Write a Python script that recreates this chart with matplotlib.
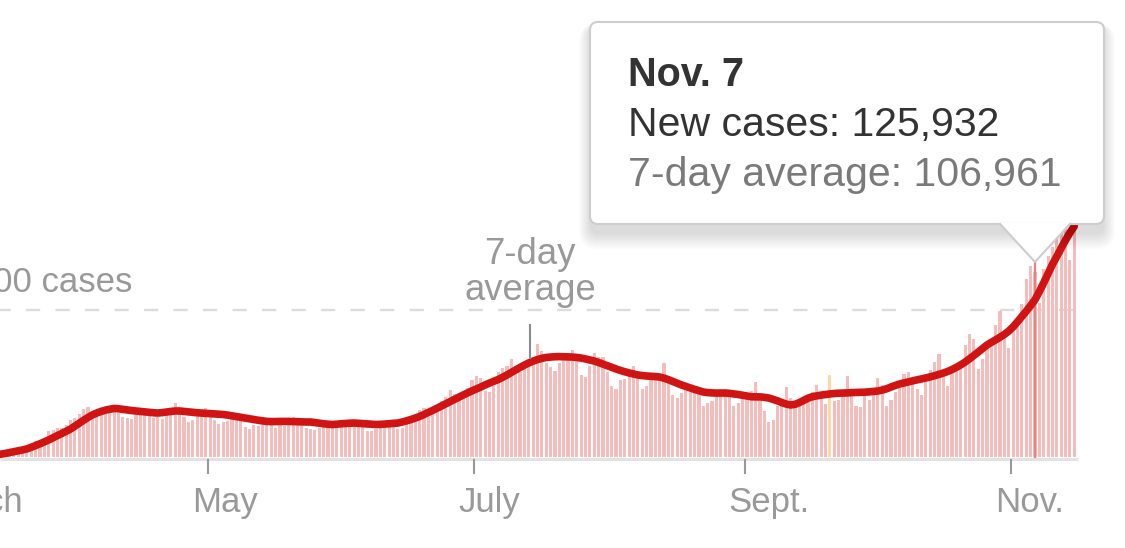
import numpy as np
import pandas as pd
import matplotlib
matplotlib.use("Agg")
import matplotlib.pyplot as plt
from matplotlib.patches import FancyBboxPatch, Polygon
from matplotlib.transforms import Affine2D, blended_transform_factory, offset_copy

plt.rcParams["font.family"] = ["Liberation Sans", "DejaVu Sans"]

# --- data (thousands of cases per day, starting March 12, 2020) ---
first_day = "2020-03-12"
new_cases = [
    # March 12-31
    0.5, 0.6, 0.7, 0.9, 1.2, 1.8, 2.6, 4.5, 5.6, 6.5, 8.5, 10.6, 10.2, 12.2, 17.8, 18.6, 19.6, 20.0, 21.5, 25.2,
    # April
    26.5, 29.5, 32.5, 34.0, 26.0, 29.5, 31.0, 31.0, 33.5, 34.5, 30.0, 27.5, 26.5, 26.0, 30.0, 31.5, 31.0, 30.0,
    26.5, 27.0, 26.0, 29.0, 31.5, 36.5, 33.0, 27.0, 23.5, 25.5, 28.0, 31.0,
    # May
    33.0, 29.5, 25.5, 22.5, 24.0, 24.5, 28.0, 27.5, 25.0, 20.5, 19.0, 22.0, 21.0, 27.5, 25.0, 24.0, 20.0, 22.0,
    21.0, 22.5, 27.5, 24.0, 22.5, 19.5, 19.0, 18.5, 19.5, 22.5, 24.5, 24.0, 20.5,
    # June
    21.0, 21.5, 20.5, 21.5, 24.5, 22.5, 18.0, 17.5, 19.0, 21.0, 23.0, 25.5, 25.0, 19.0, 20.0, 23.5, 25.5, 28.0,
    32.0, 33.0, 27.0, 30.0, 35.5, 38.0, 40.5, 45.5, 43.0, 40.0, 41.5, 47.0,
    # July
    52.5, 55.0, 54.0, 45.0, 44.0, 48.0, 58.0, 60.5, 62.0, 67.0, 61.0, 58.0, 62.0, 65.0, 67.5, 77.0, 72.0, 64.0,
    61.5, 58.5, 64.0, 69.5, 71.0, 73.0, 66.0, 56.0, 54.5, 62.0, 70.5, 68.0, 68.0,
    # August
    58.0, 48.0, 46.0, 52.5, 53.0, 57.5, 62.0, 55.5, 46.5, 48.5, 53.0, 56.0, 52.0, 64.0, 53.0, 42.0, 40.0, 43.5,
    46.0, 45.0, 47.5, 45.0, 35.0, 37.0, 38.0, 45.0, 46.0, 46.5, 44.0, 35.0, 37.0,
    # September
    43.0, 41.0, 45.0, 51.0, 43.0, 31.0, 24.0, 25.0, 35.0, 36.0, 47.5, 40.0, 34.0, 35.5, 38.0, 40.0, 44.5, 49.0,
    42.5, 36.0, 56.0, 38.0, 39.0, 44.0, 55.0, 46.0, 34.5, 34.0, 43.0, 39.0,
    # October
    44.0, 54.0, 49.0, 35.0, 38.5, 44.0, 50.5, 56.5, 58.0, 54.0, 46.0, 42.0, 52.0, 59.0, 64.5, 70.0, 56.0, 48.5,
    58.0, 60.0, 63.0, 76.0, 83.5, 80.0, 60.0, 67.0, 74.0, 79.5, 90.0, 99.0, 82.0,
    # November 1-16
    74.0, 88.0, 92.0, 104.0, 121.0, 130.0, 125.932, 105.0, 128.0, 137.0, 143.0, 162.0, 177.0, 160.0, 134.0, 166.0,
]
avg_cases = [
    0.7, 1.0, 1.4, 1.9, 2.4, 3.0, 3.6, 4.2, 4.8, 5.5,
    6.6, 7.8, 9.0, 10.3, 11.6, 13.1, 14.6, 16.0, 17.5, 19.0,
    21.0, 23.0, 25.0, 26.9, 28.6, 29.9, 31.0, 31.9, 32.5, 33.0,
    32.8, 32.4, 32.0, 31.6, 31.3, 31.0, 30.7, 30.4, 30.1, 29.9,
    30.2, 30.6, 31.0, 31.3, 31.3, 31.0, 30.7, 30.4, 30.1, 29.9,
    29.7, 29.5, 29.3, 29.1, 28.9, 28.5, 28.0, 27.5, 27.0, 26.5,
    26.0, 25.5, 25.0, 24.6, 24.2, 24.1, 24.1, 24.2, 24.2, 24.2,
    24.1, 24.0, 23.9, 23.8, 23.8, 23.4, 23.0, 22.6, 22.3, 22.1,
    22.3, 22.6, 22.8, 23.0, 23.1, 22.9, 22.7, 22.5, 22.3, 22.1,
    22.2, 22.4, 22.6, 22.9, 23.1, 23.8, 24.6, 25.5, 26.5, 27.6,
    28.9, 30.3, 31.7, 33.2, 34.7, 36.2, 37.7, 39.2, 40.7, 42.2,
    43.6, 45.0, 46.3, 47.6, 49.0, 50.3, 51.5, 52.7, 54.2, 55.8,
    57.5, 59.2, 60.9, 62.5, 64.0, 65.2, 66.3, 67.1, 67.7, 68.0,
    68.2, 68.3, 68.2, 68.1, 68.0, 67.7, 67.3, 66.7, 66.0, 65.3,
    64.3, 63.2, 62.1, 61.0, 59.9, 58.9, 58.0, 57.2, 56.5, 55.8,
    55.4, 55.1, 54.9, 54.7, 54.4, 53.6, 52.6, 51.4, 50.2, 49.0,
    48.0, 47.0, 46.0, 45.1, 44.2, 43.8, 43.6, 43.5, 43.5, 43.5,
    43.3, 42.9, 42.5, 42.0, 41.5, 41.0, 40.9, 40.9, 40.6, 40.1,
    39.2, 38.2, 37.0, 36.0, 35.4, 35.8, 37.0, 38.5, 40.0, 41.0,
    41.6, 42.1, 42.5, 42.9, 43.2, 43.4, 43.5, 43.6, 43.8, 43.9,
    44.0, 44.1, 44.3, 44.6, 44.9, 45.5, 46.4, 47.6, 48.7, 49.7,
    50.4, 51.1, 51.8, 52.5, 53.1, 53.8, 54.5, 55.3, 56.2, 57.1,
    58.2, 59.5, 61.0, 62.7, 64.6, 66.8, 69.1, 71.4, 73.8, 76.2,
    78.0, 79.7, 81.5, 83.4, 85.7, 88.6, 92.0, 95.6, 99.2, 103.0,
    106.961, 112.5, 118.5, 124.7, 131.0, 136.5, 142.0, 147.5, 152.5, 157.0,
]
flagged_day = "2020-09-21"
hover_day = "2020-11-07"
month_ticks = ["2020-03-01", "2020-05-01", "2020-07-01", "2020-09-01", "2020-11-01"]
month_labels = ["March", "May", "July", "Sept.", "Nov."]
guide_value = 100
guide_label = "100,000 cases"
avg_label_day = "2020-07-14"
tip_title = "Nov. 7"
tip_new = "New cases: 125,932"
tip_avg = "7-day average: 106,961"

# --- layout ---
W, H = 1125, 548
origin = pd.Timestamp("2020-03-01")
px_per_day = 4.364
x0_day = 58.2 / px_per_day           # day number at left edge
base_px, guide_px = 457, 310         # baseline and 100k line, pixels from top
k_per_px = guide_value / (base_px - guide_px)

dates = pd.date_range(first_day, periods=len(new_cases))
day = (dates - origin).days.values - 0.5

fig = plt.figure(figsize=(W / 100, H / 100), dpi=100)
ax = fig.add_axes([0, 0, 1, 1])
ax.set_xlim(x0_day, x0_day + W / px_per_day)
ax.set_ylim((base_px - H) * k_per_px, base_px * k_per_px)
ax.axis("off")

# pixel coords from the top-left corner, and a data-x / pixel-y blend
px = Affine2D().scale(1 / W, -1 / H).translate(0, 1) + fig.transFigure
data_x_px_y = blended_transform_factory(ax.transData, px)

def to_day(s):
    return (pd.Timestamp(s) - origin).days

right_end = day[-1] + 0.9

# baseline, guide
ax.hlines(-1.5 * k_per_px, x0_day, right_end, color="#e3e3e3", lw=2.2, zorder=1)
ax.hlines(guide_value, x0_day, right_end, color="#dcdcdc", lw=1.7,
          linestyles=(1.5, (6.0, 6.5)), zorder=1)

# bars
colors = ["#fad9a6" if d == pd.Timestamp(flagged_day) else "#f5bcbc" for d in dates]
ax.bar(day, new_cases, width=0.72, color=colors, linewidth=0, zorder=2)

# hover line
hx = to_day(hover_day) - 0.5
ax.plot([hx, hx], [base_px, 262], transform=data_x_px_y, color="#ec8080", lw=1.6, zorder=3)

# 7-day average line
ax.plot(day, avg_cases, color="#d01414", lw=5.5, solid_capstyle="round",
        solid_joinstyle="round", zorder=4)

# month ticks and labels
gray = "#999999"
for t, lab in zip(month_ticks, month_labels):
    td = to_day(t)
    ax.plot([td, td], [460, 473], transform=data_x_px_y, color=gray, lw=1.5, zorder=1)
    ax.text(td, 512, lab, transform=offset_copy(data_x_px_y, fig, x=-16, y=0, units="dots"),
            ha="left", va="baseline", fontsize=25, color=gray)

ax.text(132, 291, guide_label, transform=px, ha="right", va="baseline", fontsize=25, color=gray)

# 7-day average annotation
ad = to_day(avg_label_day) - 0.2
ax.text(ad, 264, "7-day", transform=data_x_px_y, ha="center", va="baseline", fontsize=26.3, color=gray)
ax.text(ad, 300, "average", transform=data_x_px_y, ha="center", va="baseline", fontsize=26.3, color=gray)
ax.plot([ad, ad], [325, 358], transform=data_x_px_y, color="#8c8c8c", lw=1.5, zorder=5)

# tooltip
bx, by, bw, bh = 590, 22, 514, 202
for i in range(12):
    sh = FancyBboxPatch((bx - i, by + 4 - i * 0.2), bw + 2 * i, bh + 6 + i * 1.6,
                        boxstyle="round,pad=0,rounding_size=%g" % (8 + i),
                        transform=px, facecolor="black", edgecolor="none",
                        alpha=0.012, zorder=8)
    ax.add_patch(sh)
box = FancyBboxPatch((bx, by), bw, bh, boxstyle="round,pad=0,rounding_size=8", transform=px,
                     facecolor="white", edgecolor="#cdcdcd", lw=1.5, zorder=9)
ax.add_patch(box)
half = 8.0
tri = [(hx - half, by + bh - 1), (hx, 262), (hx + half, by + bh - 1)]
ax.add_patch(Polygon(tri, closed=True, transform=data_x_px_y, facecolor="white",
                     edgecolor="none", zorder=9.5))
ax.plot([hx - half, hx, hx + half], [by + bh, 262, by + bh], transform=data_x_px_y,
        color="#cdcdcd", lw=1.5, zorder=9.6)

ax.text(628, 86, tip_title, transform=px, ha="left", va="baseline", fontsize=28.5,
        fontweight="bold", color="#333333", zorder=10)
ax.text(628, 136, tip_new, transform=px, ha="left", va="baseline", fontsize=29.5,
        color="#333333", zorder=10)
ax.text(628, 186, tip_avg, transform=px, ha="left", va="baseline", fontsize=29.5,
        color="#7a7a7a", zorder=10)

fig.savefig("out.png", dpi=100, facecolor="white")
